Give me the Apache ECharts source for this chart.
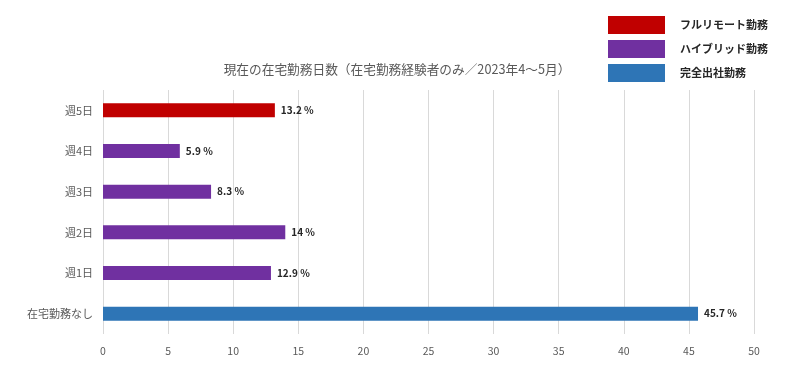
<!DOCTYPE html>
<html>
<head>
<meta charset="utf-8">
<script src="https://cdn.jsdelivr.net/npm/echarts@6/dist/echarts.min.js"></script>
<style>
  html, body { margin: 0; padding: 0; background: #fff; }
  #chart { width: 800px; height: 378px; }
</style>
</head>
<body>
<div id="chart"></div>
<script>
// categories from bottom to top
const categories = ['在宅勤務なし', '週1日', '週2日', '週3日', '週4日', '週5日']
const fullRemote = [null, null, null, null, null, 13.2]
const hybrid = [null, 12.9, 14, 8.3, 5.9, null]
const office = [45.7, null, null, null, null, null]
const xTicks = [0, 5, 10, 15, 20, 25, 30, 35, 40, 45, 50]

const font = '"Noto Sans CJK JP", "Noto Sans", sans-serif'

const labelOpt = {
  show: true,
  position: 'right',
  distance: 6,
  color: '#262626',
  fontWeight: 'bold',
  fontSize: 10,
  fontFamily: font,
  formatter: p => p.value + ' %'
}

const mkSeries = (name, data, color) => ({
  name: name,
  type: 'bar',
  stack: 'all',
  data: data,
  barWidth: 14,
  itemStyle: { color: color },
  label: labelOpt
})

const chart = echarts.init(document.getElementById('chart'))
chart.setOption({
  animation: false,
  textStyle: { fontFamily: font },
  title: {
    text: '現在の在宅勤務日数（在宅勤務経験者のみ／2023年4〜5月）',
    left: 392,
    textAlign: 'center',
    top: 58,
    textStyle: { fontSize: 12.7, fontWeight: 'normal', color: '#595959', fontFamily: font }
  },
  legend: {
    orient: 'vertical',
    left: 608,
    top: 16,
    padding: 0,
    itemWidth: 57,
    itemHeight: 18,
    itemGap: 6,
    icon: 'rect',
    textStyle: { fontSize: 11, fontWeight: 'bold', color: '#262626', padding: [0, 0, 0, 10] },
    data: ['フルリモート勤務', 'ハイブリッド勤務', '完全出社勤務']
  },
  grid: { left: 103, right: 46, top: 90, bottom: 44 },
  xAxis: {
    type: 'value',
    min: 0,
    max: 50,
    interval: 5,
    axisLine: { show: false },
    axisTick: { show: false },
    axisLabel: { color: '#595959', fontSize: 10.5, margin: 12,
      formatter: v => xTicks.includes(v) ? String(v) : '' },
    splitLine: { lineStyle: { color: '#d9d9d9' } }
  },
  yAxis: {
    type: 'category',
    data: categories,
    axisLine: { show: false },
    axisTick: { show: false },
    axisLabel: { color: '#595959', fontSize: 11, margin: 10 }
  },
  series: [
    mkSeries('フルリモート勤務', fullRemote, '#c00000'),
    mkSeries('ハイブリッド勤務', hybrid, '#7030a0'),
    mkSeries('完全出社勤務', office, '#2e75b6')
  ]
})
</script>
</body>
</html>
